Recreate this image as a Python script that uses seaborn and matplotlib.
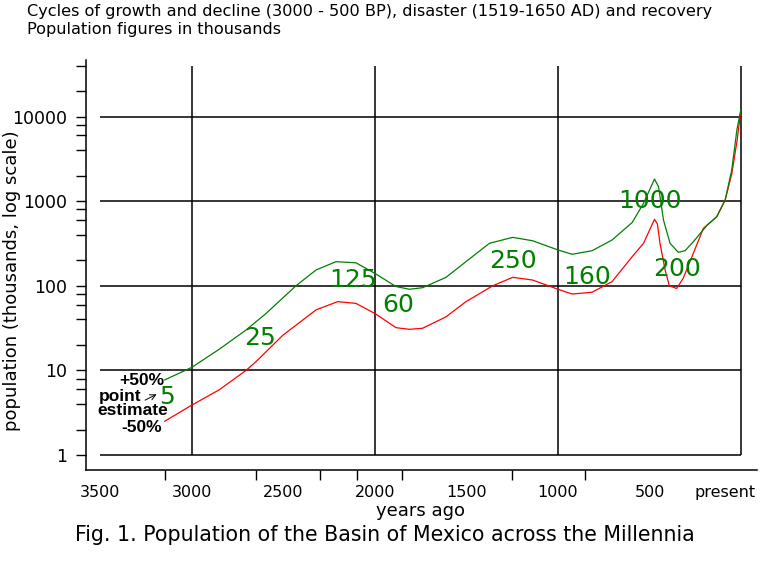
import matplotlib
matplotlib.use("Agg")
import matplotlib.pyplot as plt
import matplotlib.ticker as mticker
from matplotlib.transforms import ScaledTranslation
import seaborn as sns
import pandas as pd

# ---- data (years before present, population in thousands) ----
green_years = [3150, 3000, 2851, 2705, 2596, 2432, 2322, 2213, 2104, 2000, 1885, 1812, 1740,
               1612, 1503, 1375, 1248, 1139, 1000, 923, 814, 705, 595, 533, 473, 451, 424,
               388, 343, 306, 261, 188, 133, 87, 51, 23, 1]
green_vals = [7.7, 10.9, 17.8, 30, 47, 100, 154, 193, 187, 140, 98, 91, 95,
              126, 193, 318, 374, 341, 265, 236, 260, 348, 560, 944, 1830, 1486, 600,
              318, 249, 260, 332, 513, 656, 1033, 2339, 6950, 12200]

red_years = [3150, 3000, 2851, 2705, 2650, 2504, 2322, 2204, 2104, 2000, 1885, 1812, 1740,
             1612, 1503, 1357, 1248, 1139, 1000, 923, 814, 705, 595, 533, 473, 457, 443,
             415, 392, 352, 316, 261, 206, 133, 87, 51, 23, 3]
red_vals = [2.5, 3.9, 5.9, 10, 12.7, 26, 52, 65, 62, 47, 32, 30.6, 31.5,
            43, 65, 100, 126, 117, 91, 80, 84, 112, 221, 318, 611, 537, 318,
            154, 100, 93, 123, 242, 478, 656, 1033, 2100, 5000, 11000]

est_labels = ["5", "25", "125", "60", "250", "160", "1000", "200"]
est_years = [3137, 2628, 2122, 1873, 1248, 843, 497, 351]
est_vals = [4.85, 24, 117, 59, 196, 126, 1000, 157]

x_tick_vals = [3500, 3000, 2500, 2000, 1500, 1000, 500, 0]
x_tick_labels = ["3500", "3000", "2500", "2000", "1500", "1000", "500", "present"]
x_mark_vals = [3500, 3150, 2650, 2300, 2100, 1850, 1500, 1250, 850, 500, 0]
y_tick_vals = [1, 10, 100, 1000, 10000]
y_tick_labels = ["1", "10", "100", "1000", "10000"]
y_minor_vals = [m * d for d in [1, 10, 100, 1000, 10000] for m in (2, 4, 6, 8)]
grid_x = [3000, 2000, 1000, 0]

title1 = "Cycles of growth and decline (3000 - 500 BP), disaster (1519-1650 AD) and recovery"
title2 = "Population figures in thousands"
caption = "Fig. 1. Population of the Basin of Mexico across the Millennia"

sns.set_style("white")
plt.rcParams['font.family'] = ['DejaVu Sans']
plt.rcParams['text.color'] = 'black'
plt.rcParams['axes.labelcolor'] = 'black'

fig = plt.figure(figsize=(7.68, 5.76), dpi=100)
ax = fig.add_axes([86/768, 1 - 470/576, (757-86)/768, 410/576])
ax.set_yscale('log')

green_df = pd.DataFrame({"year": green_years, "pop": green_vals})
red_df = pd.DataFrame({"year": red_years, "pop": red_vals})
sns.lineplot(data=red_df, x="year", y="pop", color="#ff0000", lw=0.9, sort=False,
             estimator=None, ax=ax)
sns.lineplot(data=green_df, x="year", y="pop", color="#008000", lw=0.9, sort=False,
             estimator=None, ax=ax)

# grid
ax.hlines(y_tick_vals, 3500, 0, color="black", lw=1.1, zorder=1)
ax.vlines(grid_x, 1, 40000, color="black", lw=1.1, zorder=1)

ax.set_xlim(3579, -87)
ax.set_ylim(0.665, 46700)

for s in ["top", "right"]:
    ax.spines[s].set_visible(False)
for s in ["left", "bottom"]:
    ax.spines[s].set_color("black")
    ax.spines[s].set_linewidth(1.1)

ax.xaxis.set_major_locator(mticker.FixedLocator(x_tick_vals))
ax.xaxis.set_major_formatter(mticker.FixedFormatter(x_tick_labels))
ax.xaxis.set_minor_locator(mticker.FixedLocator(x_mark_vals))
ax.xaxis.set_minor_formatter(mticker.NullFormatter())
ax.tick_params(axis='x', which='major', length=0, pad=11, labelsize=11.5, colors='black')
ax.tick_params(axis='x', which='minor', length=7.5, width=1, direction='out', colors='black',
               bottom=True)

ax.yaxis.set_major_locator(mticker.FixedLocator(y_tick_vals))
ax.yaxis.set_major_formatter(mticker.FixedFormatter(y_tick_labels))
ax.yaxis.set_minor_locator(mticker.FixedLocator(y_minor_vals))
ax.yaxis.set_minor_formatter(mticker.NullFormatter())
ax.tick_params(axis='y', which='both', length=7.5, width=1, direction='out', colors='black',
               left=True, pad=6)
ax.tick_params(axis='y', which='major', labelsize=12.5)
ax.set_xlabel("")
ax.set_ylabel("")

fig.canvas.draw()
for lbl in ax.get_xticklabels():
    if lbl.get_text() == "present":
        lbl.set_transform(lbl.get_transform() + ScaledTranslation(-16/100, 0, fig.dpi_scale_trans))

# point-estimate labels
for lab, yr, v in zip(est_labels, est_years, est_vals):
    ax.text(yr, v, lab, color="#008000", fontsize=18, ha="center", va="center")

# legend-like annotation
bold = dict(fontsize=12.5, fontweight="bold", ha="center", va="center", color="black",
            family=['Liberation Sans', 'DejaVu Sans'])
ax.text(3273, 7.7, "+50%", **bold)
ax.text(3393, 4.98, "point", **bold)
ax.text(3322, 3.35, "estimate", **bold)
ax.text(3273, 2.14, "-50%", **bold)
ax.annotate("", xy=(3180, 5.4), xytext=(3270, 4.3),
            arrowprops=dict(arrowstyle="->", color="black", lw=0.7))

fig.text(27/768, 1 - 4/576, title1, fontsize=11.6, ha="left", va="top", color="black")
fig.text(27/768, 1 - 22/576, title2, fontsize=11.6, ha="left", va="top", color="black")
fig.text(12/768, 1 - 281/576, "population (thousands, log scale)", fontsize=13,
         rotation=90, ha="center", va="center", color="black")
fig.text(421/768, 1 - 511/576, "years ago", fontsize=13, ha="center", va="center",
         color="black")
fig.text(385/768, 1 - 535/576, caption, fontsize=14.8, ha="center", va="center",
         color="black")

fig.savefig("out.png", dpi=100)
